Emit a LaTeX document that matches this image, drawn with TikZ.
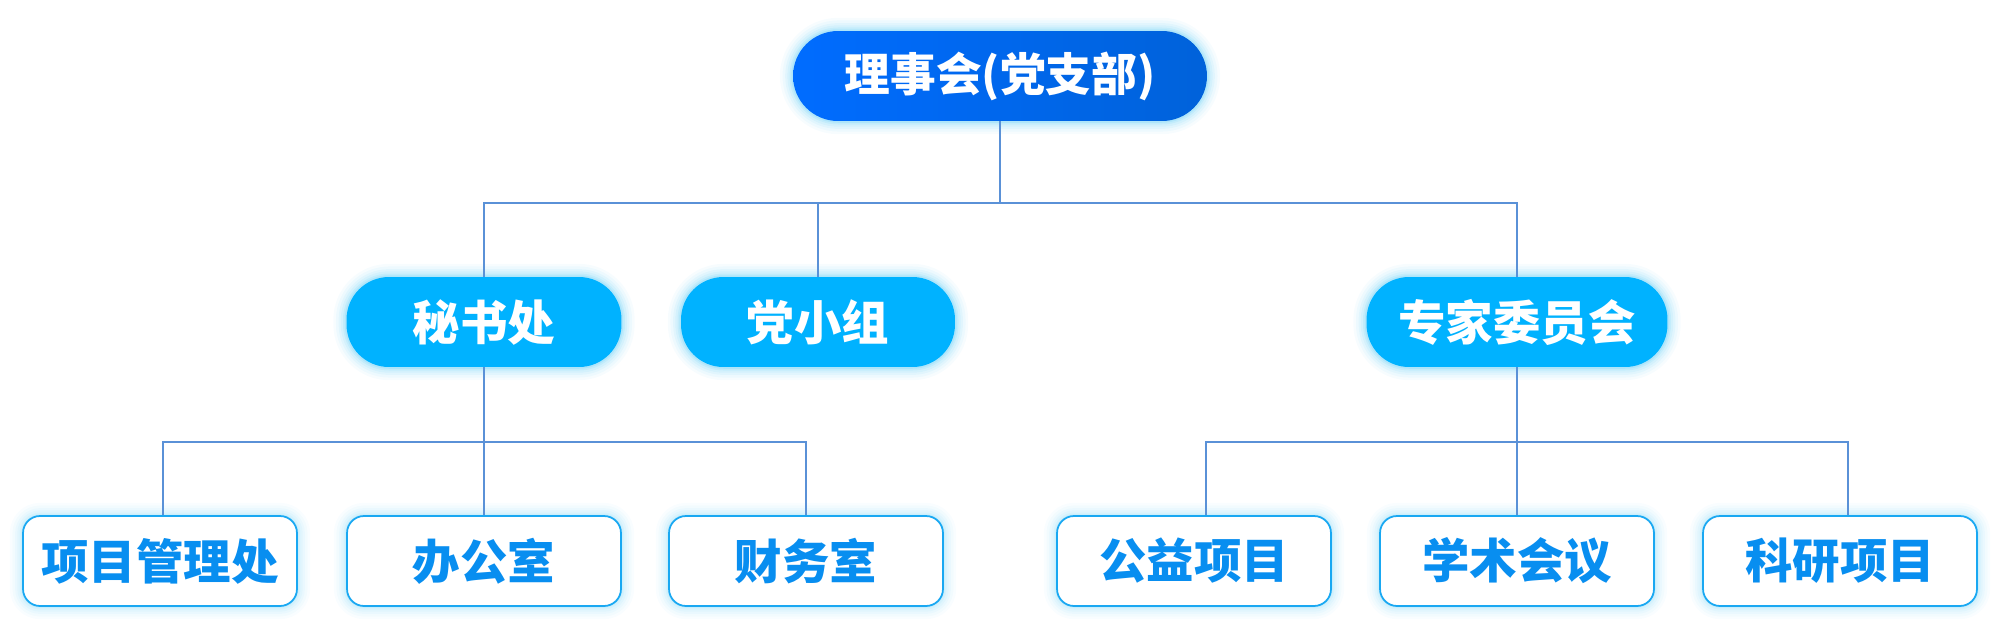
\documentclass[tikz,border=0pt]{standalone}
\usepackage{fontspec}
\newfontfamily\cjk{Noto Sans CJK SC}
\usetikzlibrary{positioning, calc}

\definecolor{rootL}{RGB}{0,108,255}
\definecolor{rootR}{RGB}{0,98,218}
\definecolor{midblue}{RGB}{0,178,255}
\definecolor{leafline}{RGB}{25,168,242}
\definecolor{leaftext}{RGB}{8,142,240}
\definecolor{linkblue}{RGB}{90,145,215}

\begin{document}
\begin{tikzpicture}[
    x=0.02cm, y=-0.02cm,
    glow/.style={preaction={draw=#1, draw opacity=0.03, line width=15pt},
                 preaction={draw=#1, draw opacity=0.04, line width=12pt},
                 preaction={draw=#1, draw opacity=0.05, line width=9pt},
                 preaction={draw=#1, draw opacity=0.06, line width=6.5pt},
                 preaction={draw=#1, draw opacity=0.08, line width=4pt},
                 preaction={draw=#1, draw opacity=0.10, line width=2pt}},
    root/.style={glow=cyan, rounded corners=0.9cm, left color=rootL, right color=rootR,
                 minimum width=8.28cm, minimum height=1.8cm, inner sep=0pt,
                 text=white, font=\cjk\bfseries\fontsize{26}{30}\selectfont},
    mid/.style={glow=cyan, rounded corners=0.85cm, fill=midblue, minimum height=1.8cm,
                inner sep=0pt, text=white, font=\cjk\bfseries\fontsize{27}{30}\selectfont},
    leaf/.style={glow=cyan!70, rounded corners=0.34cm, draw=leafline, line width=1pt, fill=white,
                 minimum width=5.48cm, minimum height=1.8cm, inner sep=0pt,
                 text=leaftext, font=\cjk\bfseries\fontsize{27}{30}\selectfont},
    link/.style={draw=linkblue, line width=0.8pt}
]
    \useasboundingbox (0,0) rectangle (2000,629);

    \node[root] (lsh) at (1000,76) {理事会(党支部)};

    \node[mid, minimum width=5.5cm] (msc) at (484,322) {秘书处};
    \node[mid, minimum width=5.48cm] (dxz) at (818,322) {党小组};
    \node[mid, minimum width=6.02cm] (zjw) at (1517,322) {专家委员会};

    \node[leaf] (xmg) at (160,561) {项目管理处};
    \node[leaf] (bgs) at (484,561) {办公室};
    \node[leaf] (cws) at (806,561) {财务室};
    \node[leaf] (gyx) at (1194,561) {公益项目};
    \node[leaf] (xsh) at (1517,561) {学术会议};
    \node[leaf] (kyx) at (1840,561) {科研项目};

    \coordinate (j0) at (1000,203);
    \coordinate (j1) at (484,442);
    \coordinate (j2) at (1517,442);

    \draw[link] (lsh.south) -- (j0);
    \draw[link] (msc.north) |- (j0);
    \draw[link] (zjw.north) |- (j0);
    \draw[link] (dxz.north) -- (dxz.north |- j0);

    \draw[link] (msc.south) -- (j1);
    \draw[link] ([xshift=0.06cm]xmg.north) |- (j1);
    \draw[link] (cws.north) |- (j1);
    \draw[link] (bgs.north) -- (j1);

    \draw[link] (zjw.south) -- (j2);
    \draw[link] ([xshift=0.24cm]gyx.north) |- (j2);
    \draw[link] ([xshift=0.16cm]kyx.north) |- (j2);
    \draw[link] (xsh.north) -- (j2);
\end{tikzpicture}
\end{document}
